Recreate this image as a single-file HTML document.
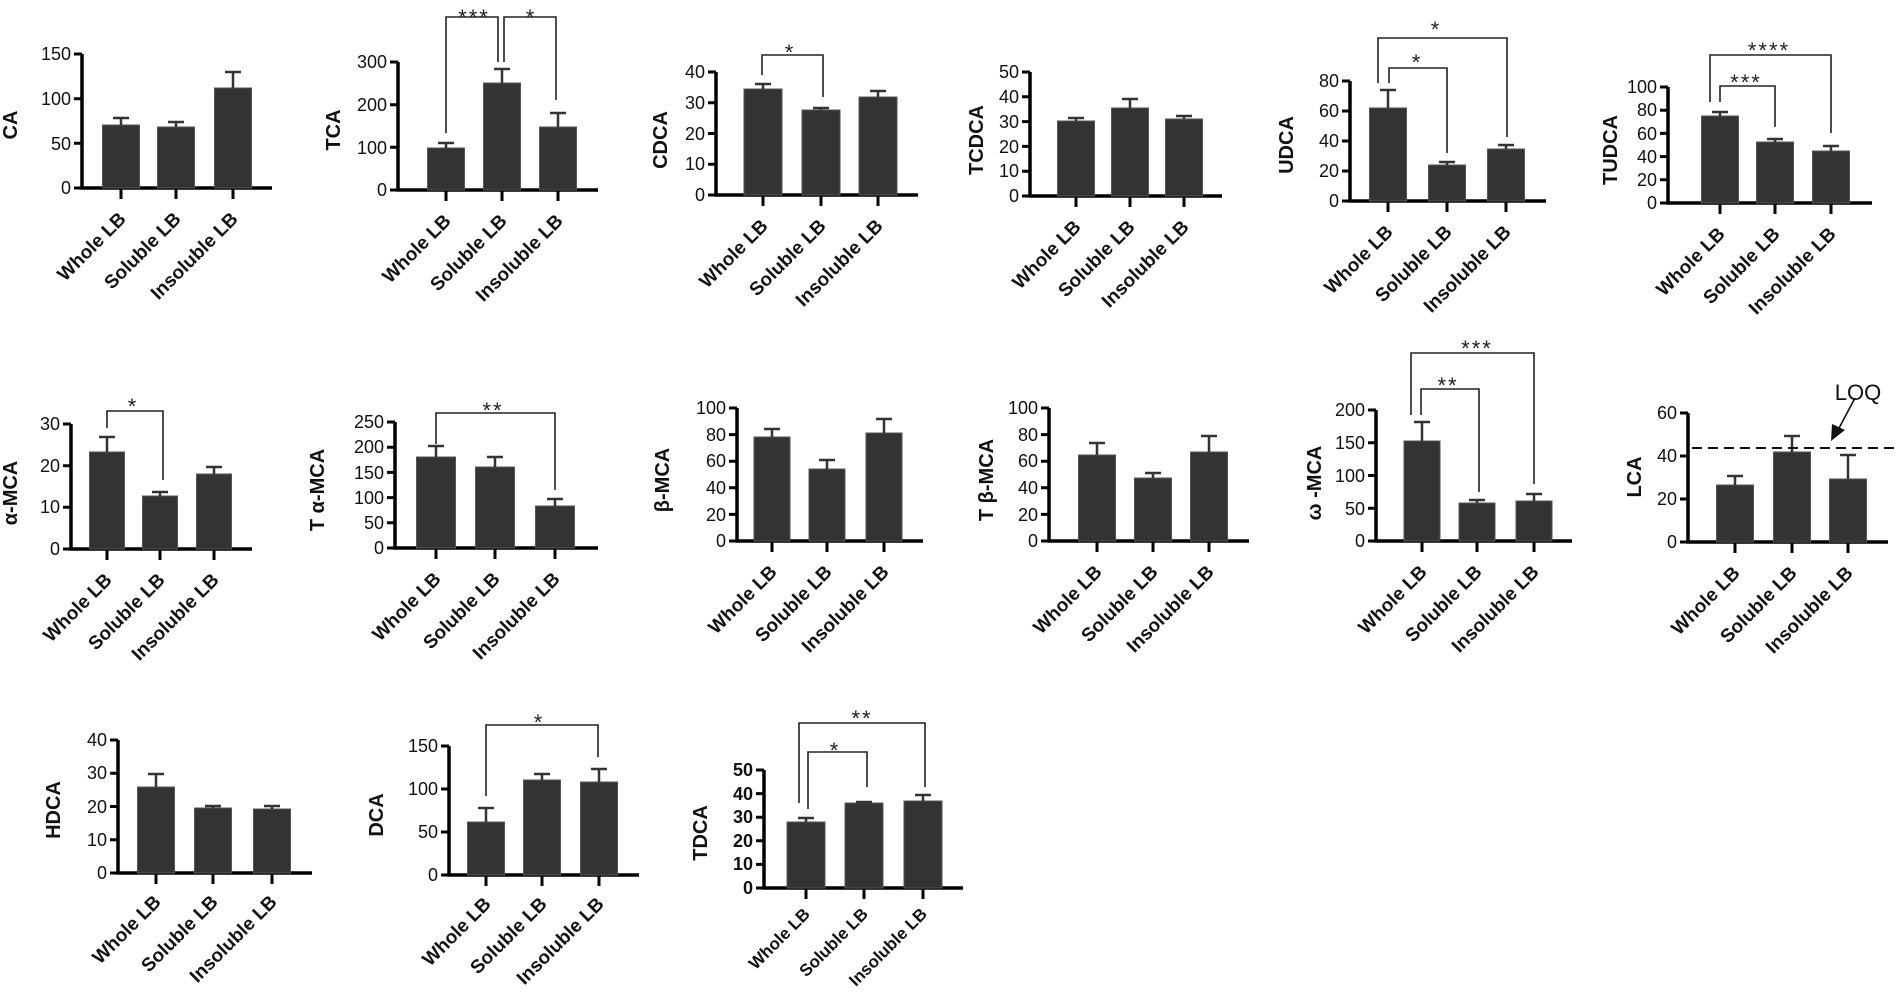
<!DOCTYPE html>
<html><head><meta charset="utf-8"><style>
html,body{margin:0;padding:0;background:#fff}
svg{display:block}
.ax{stroke:#000;stroke-width:3.5;fill:none}
.tk{stroke:#000;stroke-width:3}
.yl{font-family:"Liberation Sans",sans-serif;font-size:18px;text-anchor:end;fill:#111}
.lab{font-family:"Liberation Sans",sans-serif;font-size:20px;font-weight:bold;text-anchor:middle;fill:#111}
.xl{font-family:"Liberation Sans",sans-serif;font-size:19px;font-weight:bold;text-anchor:end;fill:#111}
.xs{font-family:"Liberation Sans",sans-serif;font-size:17px;font-weight:bold;text-anchor:end;fill:#111}
.bar{fill:#333;stroke:#555;stroke-width:1}
.eb{stroke:#333;stroke-width:2.5;fill:none}
.br{stroke:#222;stroke-width:1.6;fill:none}
.st{font-family:"Liberation Sans",sans-serif;font-size:22px;text-anchor:middle;fill:#222;letter-spacing:2px}
</style></head><body>
<svg width="1897" height="994" viewBox="0 0 1897 994" xmlns="http://www.w3.org/2000/svg">

<!-- CA -->
<g>
<path class="ax" d="M82,54V188H272"/>
<path class="tk" d="M74,188H82M74,143.3H82M74,98.7H82M74,54H82M121,188V199M176,188V199M233,188V199"/>
<text class="yl" x="71" y="194">0</text><text class="yl" x="71" y="150">50</text><text class="yl" x="71" y="105">100</text><text class="yl" x="71" y="60">150</text>
<rect class="bar" x="102.5" y="125" width="37" height="63"/><rect class="bar" x="157.5" y="127" width="37" height="61"/><rect class="bar" x="214.5" y="88" width="37" height="100"/>
<path class="eb" d="M121,125V118M113,118H129M176,127V122M168,122H184M233,88V72M225,72H241"/>
<text class="lab" transform="translate(17,125) rotate(-90)">CA</text>
<text class="xl" transform="translate(127,220) rotate(-45)">Whole LB</text><text class="xl" transform="translate(182,220) rotate(-45)">Soluble LB</text><text class="xl" transform="translate(239,220) rotate(-45)">Insoluble LB</text>
</g>

<!-- TCA -->
<g>
<path class="ax" d="M398,62V190H598"/>
<path class="tk" d="M390,190H398M390,147.3H398M390,104.7H398M390,62H398M446,190V201M502,190V201M558,190V201"/>
<text class="yl" x="387" y="196">0</text><text class="yl" x="387" y="154">100</text><text class="yl" x="387" y="111">200</text><text class="yl" x="387" y="68">300</text>
<rect class="bar" x="427.5" y="148" width="37" height="42"/><rect class="bar" x="483.5" y="83" width="37" height="107"/><rect class="bar" x="539.5" y="127" width="37" height="63"/>
<path class="eb" d="M446,148V143M438,143H454M502,83V69M494,69H510M558,127V113M550,113H566"/>
<path class="br" d="M446,133V17H498V62M504,62V17H556V100"/>
<text class="st" x="474" y="25">***</text><text class="st" x="531" y="25">*</text>
<text class="lab" transform="translate(340,130) rotate(-90)">TCA</text>
<text class="xl" transform="translate(452,222) rotate(-45)">Whole LB</text><text class="xl" transform="translate(508,222) rotate(-45)">Soluble LB</text><text class="xl" transform="translate(564,222) rotate(-45)">Insoluble LB</text>
</g>

<!-- CDCA -->
<g>
<path class="ax" d="M716,72V195H918"/>
<path class="tk" d="M708,195H716M708,164.3H716M708,133.5H716M708,102.8H716M708,72H716M763,195V206M821,195V206M878,195V206"/>
<text class="yl" x="705" y="201">0</text><text class="yl" x="705" y="170">10</text><text class="yl" x="705" y="140">20</text><text class="yl" x="705" y="109">30</text><text class="yl" x="705" y="78">40</text>
<rect class="bar" x="744" y="89" width="38" height="106"/><rect class="bar" x="802" y="110" width="38" height="85"/><rect class="bar" x="859" y="97" width="38" height="98"/>
<path class="eb" d="M763,89V84M755,84H771M821,110V108M813,108H829M878,97V91M870,91H886"/>
<path class="br" d="M762,75V55H823V97"/>
<text class="st" x="790" y="60">*</text>
<text class="lab" transform="translate(667,140) rotate(-90)">CDCA</text>
<text class="xl" transform="translate(769,227) rotate(-45)">Whole LB</text><text class="xl" transform="translate(827,227) rotate(-45)">Soluble LB</text><text class="xl" transform="translate(884,227) rotate(-45)">Insoluble LB</text>
</g>

<!-- TCDCA -->
<g>
<path class="ax" d="M1030,72V196H1222"/>
<path class="tk" d="M1022,196H1030M1022,171.2H1030M1022,146.4H1030M1022,121.6H1030M1022,96.8H1030M1022,72H1030M1076,196V207M1130,196V207M1184,196V207"/>
<text class="yl" x="1019" y="202">0</text><text class="yl" x="1019" y="177">10</text><text class="yl" x="1019" y="153">20</text><text class="yl" x="1019" y="128">30</text><text class="yl" x="1019" y="103">40</text><text class="yl" x="1019" y="78">50</text>
<rect class="bar" x="1057.5" y="121" width="37" height="75"/><rect class="bar" x="1111.5" y="108" width="37" height="88"/><rect class="bar" x="1165.5" y="119" width="37" height="77"/>
<path class="eb" d="M1076,121V118M1068,118H1084M1130,108V99M1122,99H1138M1184,119V116M1176,116H1192"/>
<text class="lab" transform="translate(983,140) rotate(-90)">TCDCA</text>
<text class="xl" transform="translate(1082,228) rotate(-45)">Whole LB</text><text class="xl" transform="translate(1136,228) rotate(-45)">Soluble LB</text><text class="xl" transform="translate(1190,228) rotate(-45)">Insoluble LB</text>
</g>

<!-- UDCA -->
<g>
<path class="ax" d="M1350,81V201H1546"/>
<path class="tk" d="M1342,201H1350M1342,171H1350M1342,141H1350M1342,111H1350M1342,81H1350M1388,201V212M1447,201V212M1506,201V212"/>
<text class="yl" x="1339" y="207">0</text><text class="yl" x="1339" y="177">20</text><text class="yl" x="1339" y="147">40</text><text class="yl" x="1339" y="117">60</text><text class="yl" x="1339" y="87">80</text>
<rect class="bar" x="1369.5" y="108" width="37" height="93"/><rect class="bar" x="1428.5" y="165" width="37" height="36"/><rect class="bar" x="1487.5" y="149" width="37" height="52"/>
<path class="eb" d="M1388,108V90M1380,90H1396M1447,165V162M1439,162H1455M1506,149V145M1498,145H1514"/>
<path class="br" d="M1389,83V68H1447V153M1378,83V38H1507V137"/>
<text class="st" x="1417" y="70">*</text><text class="st" x="1436" y="37">*</text>
<text class="lab" transform="translate(1293,145) rotate(-90)">UDCA</text>
<text class="xl" transform="translate(1394,233) rotate(-45)">Whole LB</text><text class="xl" transform="translate(1453,233) rotate(-45)">Soluble LB</text><text class="xl" transform="translate(1512,233) rotate(-45)">Insoluble LB</text>
</g>

<!-- TUDCA -->
<g>
<path class="ax" d="M1668,87V203H1872"/>
<path class="tk" d="M1660,203H1668M1660,179.8H1668M1660,156.6H1668M1660,133.4H1668M1660,110.2H1668M1660,87H1668M1720,203V214M1775,203V214M1831,203V214"/>
<text class="yl" x="1657" y="209">0</text><text class="yl" x="1657" y="186">20</text><text class="yl" x="1657" y="163">40</text><text class="yl" x="1657" y="140">60</text><text class="yl" x="1657" y="116">80</text><text class="yl" x="1657" y="93">100</text>
<rect class="bar" x="1701.5" y="116" width="37" height="87"/><rect class="bar" x="1756.5" y="142" width="37" height="61"/><rect class="bar" x="1812.5" y="151" width="37" height="52"/>
<path class="eb" d="M1720,116V112M1712,112H1728M1775,142V139M1767,139H1783M1831,151V146M1823,146H1839"/>
<path class="br" d="M1720,102V86H1775V127M1710,102V55H1831V133"/>
<text class="st" x="1746" y="90">***</text><text class="st" x="1769" y="58">****</text>
<text class="lab" transform="translate(1617,150) rotate(-90)">TUDCA</text>
<text class="xl" transform="translate(1726,235) rotate(-45)">Whole LB</text><text class="xl" transform="translate(1781,235) rotate(-45)">Soluble LB</text><text class="xl" transform="translate(1837,235) rotate(-45)">Insoluble LB</text>
</g>

<!-- alpha-MCA -->
<g>
<path class="ax" d="M71,424V549H252"/>
<path class="tk" d="M63,549H71M63,507.3H71M63,465.7H71M63,424H71M107,549V560M160,549V560M214,549V560"/>
<text class="yl" x="60" y="555">0</text><text class="yl" x="60" y="513">10</text><text class="yl" x="60" y="472">20</text><text class="yl" x="60" y="430">30</text>
<rect class="bar" x="89.5" y="452" width="35" height="97"/><rect class="bar" x="142.5" y="496" width="35" height="53"/><rect class="bar" x="196.5" y="474" width="35" height="75"/>
<path class="eb" d="M107,452V437M99,437H115M160,496V492M152,492H168M214,474V467M206,467H222"/>
<path class="br" d="M107,428V411H163V480"/>
<text class="st" x="133" y="414">*</text>
<text class="lab" transform="translate(17,493) rotate(-90)">α-MCA</text>
<text class="xl" transform="translate(113,581) rotate(-45)">Whole LB</text><text class="xl" transform="translate(166,581) rotate(-45)">Soluble LB</text><text class="xl" transform="translate(220,581) rotate(-45)">Insoluble LB</text>
</g>

<!-- T alpha-MCA -->
<g>
<path class="ax" d="M395,422V548H598"/>
<path class="tk" d="M387,548H395M387,522.8H395M387,497.6H395M387,472.4H395M387,447.2H395M387,422H395M436,548V559M495,548V559M555,548V559"/>
<text class="yl" x="384" y="554">0</text><text class="yl" x="384" y="529">50</text><text class="yl" x="384" y="504">100</text><text class="yl" x="384" y="479">150</text><text class="yl" x="384" y="453">200</text><text class="yl" x="384" y="428">250</text>
<rect class="bar" x="416.5" y="457" width="39" height="91"/><rect class="bar" x="475.5" y="467" width="39" height="81"/><rect class="bar" x="535.5" y="506" width="39" height="42"/>
<path class="eb" d="M436,457V446M428,446H444M495,467V457M487,457H503M555,506V499M547,499H563"/>
<path class="br" d="M436,444V413H555V490"/>
<text class="st" x="493" y="418">**</text>
<text class="lab" transform="translate(324,490) rotate(-90)">T α-MCA</text>
<text class="xl" transform="translate(442,580) rotate(-45)">Whole LB</text><text class="xl" transform="translate(501,580) rotate(-45)">Soluble LB</text><text class="xl" transform="translate(561,580) rotate(-45)">Insoluble LB</text>
</g>

<!-- beta-MCA -->
<g>
<path class="ax" d="M737,408V541H923"/>
<path class="tk" d="M729,541H737M729,514.4H737M729,487.8H737M729,461.2H737M729,434.6H737M729,408H737M772,541V552M827,541V552M884,541V552"/>
<text class="yl" x="726" y="547">0</text><text class="yl" x="726" y="521">20</text><text class="yl" x="726" y="494">40</text><text class="yl" x="726" y="467">60</text><text class="yl" x="726" y="441">80</text><text class="yl" x="726" y="414">100</text>
<rect class="bar" x="754" y="437" width="36" height="104"/><rect class="bar" x="809" y="469" width="36" height="72"/><rect class="bar" x="866" y="433" width="36" height="108"/>
<path class="eb" d="M772,437V429M764,429H780M827,469V460M819,460H835M884,433V419M876,419H892"/>
<text class="lab" transform="translate(669,480) rotate(-90)">β-MCA</text>
<text class="xl" transform="translate(778,573) rotate(-45)">Whole LB</text><text class="xl" transform="translate(833,573) rotate(-45)">Soluble LB</text><text class="xl" transform="translate(890,573) rotate(-45)">Insoluble LB</text>
</g>

<!-- T beta-MCA -->
<g>
<path class="ax" d="M1049,408V541H1249"/>
<path class="tk" d="M1041,541H1049M1041,514.4H1049M1041,487.8H1049M1041,461.2H1049M1041,434.6H1049M1041,408H1049M1097,541V552M1153,541V552M1209,541V552"/>
<text class="yl" x="1038" y="547">0</text><text class="yl" x="1038" y="521">20</text><text class="yl" x="1038" y="494">40</text><text class="yl" x="1038" y="467">60</text><text class="yl" x="1038" y="441">80</text><text class="yl" x="1038" y="414">100</text>
<rect class="bar" x="1078.5" y="455" width="37" height="86"/><rect class="bar" x="1134.5" y="478" width="37" height="63"/><rect class="bar" x="1190.5" y="452" width="37" height="89"/>
<path class="eb" d="M1097,455V443M1089,443H1105M1153,478V473M1145,473H1161M1209,452V436M1201,436H1217"/>
<text class="lab" transform="translate(993,480) rotate(-90)">T β-MCA</text>
<text class="xl" transform="translate(1103,573) rotate(-45)">Whole LB</text><text class="xl" transform="translate(1159,573) rotate(-45)">Soluble LB</text><text class="xl" transform="translate(1215,573) rotate(-45)">Insoluble LB</text>
</g>

<!-- omega-MCA -->
<g>
<path class="ax" d="M1376,410V541H1572"/>
<path class="tk" d="M1368,541H1376M1368,508.3H1376M1368,475.5H1376M1368,442.8H1376M1368,410H1376M1422,541V552M1477,541V552M1534,541V552"/>
<text class="yl" x="1365" y="547">0</text><text class="yl" x="1365" y="515">50</text><text class="yl" x="1365" y="482">100</text><text class="yl" x="1365" y="449">150</text><text class="yl" x="1365" y="416">200</text>
<rect class="bar" x="1404" y="441" width="36" height="100"/><rect class="bar" x="1459" y="503" width="36" height="38"/><rect class="bar" x="1516" y="501" width="36" height="40"/>
<path class="eb" d="M1422,441V422M1414,422H1430M1477,503V500M1469,500H1485M1534,501V494M1526,494H1542"/>
<path class="br" d="M1411,415V353H1534V484M1421,415V389H1479V492"/>
<text class="st" x="1477" y="356">***</text><text class="st" x="1448" y="393">**</text>
<text class="lab" transform="translate(1321,483) rotate(-90)">ω -MCA</text>
<text class="xl" transform="translate(1428,573) rotate(-45)">Whole LB</text><text class="xl" transform="translate(1483,573) rotate(-45)">Soluble LB</text><text class="xl" transform="translate(1540,573) rotate(-45)">Insoluble LB</text>
</g>

<!-- LCA -->
<g>
<path class="ax" d="M1688,413V542H1888"/>
<path class="tk" d="M1680,542H1688M1680,499H1688M1680,456H1688M1680,413H1688M1735,542V553M1792,542V553M1848,542V553"/>
<text class="yl" x="1677" y="548">0</text><text class="yl" x="1677" y="505">20</text><text class="yl" x="1677" y="462">40</text><text class="yl" x="1677" y="419">60</text>
<rect class="bar" x="1716.5" y="485" width="37" height="57"/><rect class="bar" x="1773.5" y="452" width="37" height="90"/><rect class="bar" x="1829.5" y="479" width="37" height="63"/>
<path class="eb" d="M1735,485V476M1727,476H1743M1792,452V436M1784,436H1800M1848,479V455M1840,455H1856"/>
<path d="M1692,448H1897" stroke="#111" stroke-width="2" stroke-dasharray="10,6"/>
<path d="M1855,398L1838,430" stroke="#111" stroke-width="1.6"/>
<path d="M1831,441L1832,424L1845,430Z" fill="#111"/>
<text x="1858" y="400" font-family="Liberation Sans, sans-serif" font-size="22" text-anchor="middle" fill="#111">LOQ</text>
<text class="lab" transform="translate(1641,477) rotate(-90)">LCA</text>
<text class="xl" transform="translate(1741,574) rotate(-45)">Whole LB</text><text class="xl" transform="translate(1798,574) rotate(-45)">Soluble LB</text><text class="xl" transform="translate(1854,574) rotate(-45)">Insoluble LB</text>
</g>

<!-- HDCA -->
<g>
<path class="ax" d="M118,740V873H312"/>
<path class="tk" d="M110,873H118M110,839.8H118M110,806.5H118M110,773.3H118M110,740H118M156,873V884M213,873V884M272,873V884"/>
<text class="yl" x="107" y="879">0</text><text class="yl" x="107" y="846">10</text><text class="yl" x="107" y="813">20</text><text class="yl" x="107" y="779">30</text><text class="yl" x="107" y="746">40</text>
<rect class="bar" x="137.5" y="787" width="37" height="86"/><rect class="bar" x="194.5" y="808" width="37" height="65"/><rect class="bar" x="253.5" y="809" width="37" height="64"/>
<path class="eb" d="M156,787V774M148,774H164M213,808V806M205,806H221M272,809V806M264,806H280"/>
<text class="lab" transform="translate(60,810) rotate(-90)">HDCA</text>
<text class="xl" transform="translate(162,903) rotate(-45)">Whole LB</text><text class="xl" transform="translate(219,903) rotate(-45)">Soluble LB</text><text class="xl" transform="translate(278,903) rotate(-45)">Insoluble LB</text>
</g>

<!-- DCA -->
<g>
<path class="ax" d="M449,746V875H639"/>
<path class="tk" d="M441,875H449M441,832H449M441,789H449M441,746H449M486,875V886M542,875V886M599,875V886"/>
<text class="yl" x="438" y="881">0</text><text class="yl" x="438" y="838">50</text><text class="yl" x="438" y="795">100</text><text class="yl" x="438" y="752">150</text>
<rect class="bar" x="467.5" y="822" width="37" height="53"/><rect class="bar" x="523.5" y="780" width="37" height="95"/><rect class="bar" x="580.5" y="782" width="37" height="93"/>
<path class="eb" d="M486,822V808M478,808H494M542,780V774M534,774H550M599,782V769M591,769H607"/>
<path class="br" d="M486,796V725H598V757"/>
<text class="st" x="539" y="730">*</text>
<text class="lab" transform="translate(383,815) rotate(-90)">DCA</text>
<text class="xl" transform="translate(492,905) rotate(-45)">Whole LB</text><text class="xl" transform="translate(548,905) rotate(-45)">Soluble LB</text><text class="xl" transform="translate(605,905) rotate(-45)">Insoluble LB</text>
</g>

<!-- TDCA -->
<g>
<path class="ax" d="M764,770V888H963"/>
<path class="tk" d="M756,888H764M756,864.4H764M756,840.8H764M756,817.2H764M756,793.6H764M756,770H764M806,888V899M864,888V899M923,888V899"/>
<text class="yl" x="753" y="894" font-weight="bold" font-size="16">0</text><text class="yl" x="753" y="870" font-weight="bold" font-size="16">10</text><text class="yl" x="753" y="847" font-weight="bold" font-size="16">20</text><text class="yl" x="753" y="823" font-weight="bold" font-size="16">30</text><text class="yl" x="753" y="800" font-weight="bold" font-size="16">40</text><text class="yl" x="753" y="776" font-weight="bold" font-size="16">50</text>
<rect class="bar" x="787" y="822" width="38" height="66"/><rect class="bar" x="845" y="803" width="38" height="85"/><rect class="bar" x="904" y="801" width="38" height="87"/>
<path class="eb" d="M806,822V818M798,818H814M864,803V802M856,802H872M923,801V795M915,795H931"/>
<path class="br" d="M799,803V723H925V787M808,809V752H867V787"/>
<text class="st" x="862" y="726">**</text><text class="st" x="835" y="758">*</text>
<text class="lab" transform="translate(707,833) rotate(-90)">TDCA</text>
<text class="xs" transform="translate(811,915) rotate(-45)">Whole LB</text><text class="xs" transform="translate(869,915) rotate(-45)">Soluble LB</text><text class="xs" transform="translate(928,915) rotate(-45)">Insoluble LB</text>
</g>

</svg>
</body></html>
